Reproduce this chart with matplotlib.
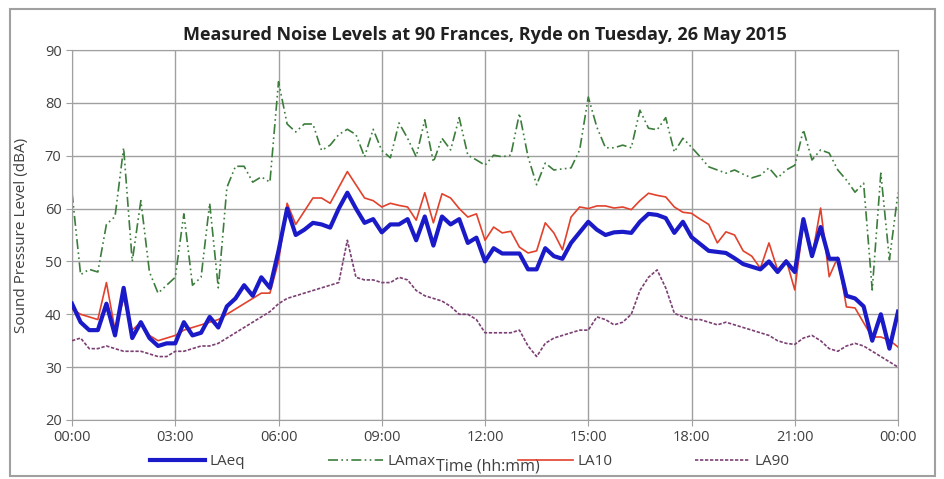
import numpy as np
import matplotlib
matplotlib.use("Agg")
import matplotlib.pyplot as plt
from matplotlib.patches import Rectangle

# 15-minute intervals, 00:00 to 24:00
laeq = [42, 38.5, 37, 37, 42, 36, 45, 35.5, 38.5, 35.5, 34, 34.5, 34.5, 38.5, 36, 36.5,
        39.5, 37.5, 41.5, 43, 45.5, 43.5, 47, 45, 52, 60, 55, 56, 57.3, 57, 56.4, 60,
        63, 60, 57.3, 58, 55.5, 57, 57, 58, 54, 58.5, 53, 58.5, 57, 58, 53.5, 54.5,
        50, 52.5, 51.5, 51.5, 51.5, 48.5, 48.5, 52.5, 51, 50.5, 53.5, 55.5, 57.5, 56, 55, 55.5,
        55.6, 55.4, 57.5, 59, 58.8, 58.2, 55.4, 57.5, 54.6, 53.3, 52, 51.8, 51.6, 50.6, 49.5, 49,
        48.5, 50, 48, 50, 48, 58, 51, 56.5, 50.5, 50.5, 43.5, 43, 41.5, 35, 40, 33.5, 40.5]
lamax = [63, 47.5, 48.5, 48, 57, 58.5, 71.5, 50, 61.5, 48, 44, 45.5, 47, 59, 45.5, 47,
         61, 45, 64, 68, 68, 65, 66, 65, 84, 76, 74.5, 76, 76, 71, 72, 74,
         75, 74, 69.8, 75, 71, 69.6, 76.2, 73.3, 69.8, 76.8, 68.8, 73.3, 71.1, 77.2, 70.1, 69.2,
         68.2, 70.1, 69.8, 70.1, 78, 69.8, 64.5, 68.6, 67.3, 67.5, 67.7, 71.1, 81.1, 75.4, 71.5, 71.5,
         72, 71.5, 78.6, 75.2, 74.9, 77.2, 70.7, 73.3, 71.6, 69.8, 67.9, 67.3, 66.7, 67.3, 66.5, 65.8,
         66.3, 67.7, 65.8, 67.3, 68.2, 74.9, 69.2, 71.1, 70.5, 67.3, 65.4, 63.1, 64.8, 44.6, 66.7, 50.3, 63]
la10 = [41, 40, 39.5, 39, 46, 37, 43, 37, 38.5, 36, 35, 35.5, 36, 37, 37.5, 38,
        38.5, 39, 40, 41, 42, 43, 44, 44, 50, 61, 57, 59.5, 62, 62, 61, 64,
        67, 64.5, 62, 61.5, 60.3, 61, 60.6, 60.3, 57.8, 63, 57.3, 62.8, 62, 60, 58.4, 59,
        54, 56.5, 55.4, 55.7, 52.7, 51.6, 52, 57.3, 55.4, 52.2, 58.4, 60.3, 60, 60.5, 60.5, 60.1,
        60.3, 59.8, 61.5, 62.9, 62.5, 62.2, 60.3, 59.3, 59.1, 58, 57, 53.5, 55.6, 55, 52, 51,
        48.7, 53.5, 48.4, 50.3, 44.6, 57.3, 50.8, 60.1, 47.1, 50.8, 41.4, 41.2, 38.4, 35.7, 35.7, 35.1, 33.8]
la90 = [35, 35.5, 33.5, 33.5, 34, 33.5, 33, 33, 33, 32.5, 32, 32, 33, 33, 33.5, 34,
        34, 34.5, 35.5, 36.5, 37.5, 38.5, 39.5, 40.5, 42, 43, 43.5, 44, 44.5, 45, 45.5, 46,
        54, 47, 46.5, 46.5, 46, 46, 47, 46.5, 44.5, 43.5, 43, 42.5, 41.5, 40, 40, 39,
        36.5, 36.5, 36.5, 36.5, 37, 34, 32, 34.5, 35.5, 36, 36.5, 37, 37, 39.5, 39, 38,
        38.5, 40, 44.5, 47, 48.4, 45, 40.2, 39.5, 39, 39, 38.5, 38, 38.5, 38, 37.5, 37,
        36.5, 36, 35, 34.5, 34.3, 35.5, 36, 35, 33.5, 33, 34, 34.5, 34, 33, 32, 31, 30]
hours = np.arange(len(laeq)) * 0.25
tick_hours = [0, 3, 6, 9, 12, 15, 18, 21, 24]
tick_labels = ["00:00", "03:00", "06:00", "09:00", "12:00", "15:00", "18:00", "21:00", "00:00"]

plt.rcParams['font.family'] = ['Open Sans', 'DejaVu Sans']

fig = plt.figure(figsize=(9.45, 4.79), dpi=100)
ax = fig.add_axes([0.0762, 0.1232, 0.8741, 0.7724])

ax.plot(hours, laeq, color='#1a1ac8', lw=3, label='LAeq', zorder=4)
ax.plot(hours, lamax, color='#3c7d3c', lw=1.2, dashes=(6, 2, 1, 2, 1, 2), label='LAmax', zorder=2)
ax.plot(hours, la10, color='#e2412c', lw=1.2, label='LA10', zorder=3)
ax.plot(hours, la90, color='#7b3f73', lw=1.2, dashes=(2, 1), label='LA90', zorder=3)

ax.set_xlim(0, 24)
ax.set_ylim(20, 90)
ax.set_xticks(tick_hours)
ax.set_xticklabels(tick_labels)
ax.set_yticks(range(20, 91, 10))
ax.grid(True, color='#a0a0a0', lw=1)
ax.set_axisbelow(True)
for s in ax.spines.values():
    s.set_color('#a0a0a0')
ax.tick_params(colors='#404040', labelsize=10.5, length=4, color='#a0a0a0')

ax.set_title('Measured Noise Levels at 90 Frances, Ryde on Tuesday, 26 May 2015',
             fontsize=13, fontweight='bold', pad=7, color='#202020')
ax.set_ylabel('Sound Pressure Level (dBA)', fontsize=11, color='#404040')
ax.yaxis.set_label_coords(-0.052, 0.5)
ax.set_xlabel('Time (hh:mm)', fontsize=11.5, color='#404040')
ax.xaxis.set_label_coords(0.503, -0.105)

fig.legend(loc='center', bbox_to_anchor=(0.497, 0.036), ncol=4, frameon=False,
           fontsize=11, handlelength=3.6, handletextpad=0.3, columnspacing=5.4,
           labelcolor='#404040')

fig.patches.append(Rectangle((0.011, 0.006), 0.978, 0.976, transform=fig.transFigure,
                             fill=False, edgecolor='#a0a0a0', lw=1.5))

fig.savefig('out.png', dpi=100)
